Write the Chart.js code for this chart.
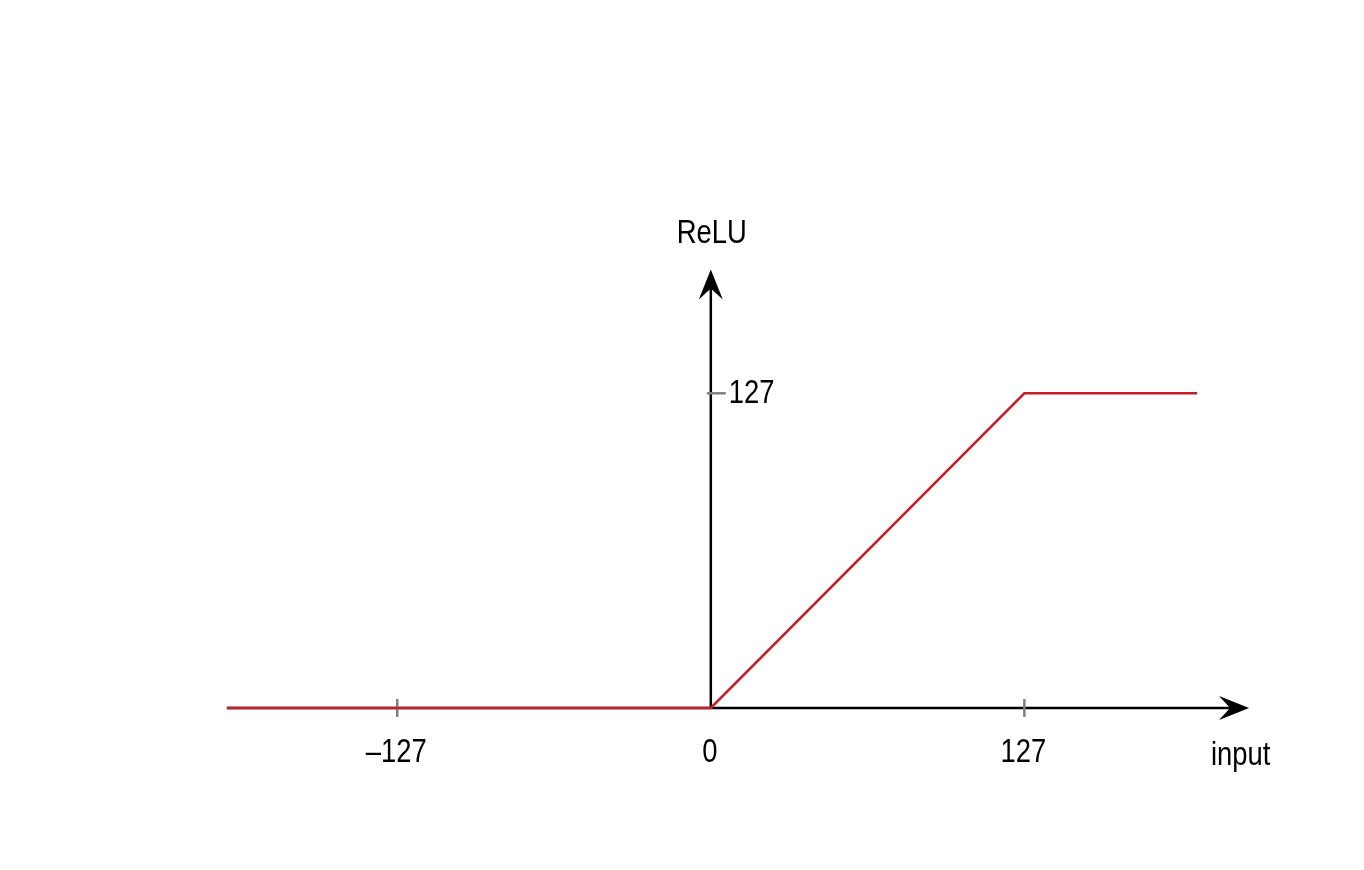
<!DOCTYPE html>
<html>
<head>
<meta charset="utf-8">
<script src="https://cdn.jsdelivr.net/npm/chart.js@4/dist/chart.umd.min.js"></script>
<style>
  html, body { margin: 0; padding: 0; background: #fff; }
  #wrap { width: 1364px; height: 870px; }
</style>
</head>
<body>
<div id="wrap"><canvas id="reluChart" width="1364" height="870"></canvas></div>
<script>
// Data
const inputValues = [-196, 0, 127, 197];
const reluValues = [0, 0, 127, 127];
const xTicks = [-127, 0, 127];
const xTickLabels = ['\u2013127', '0', '127'];
const yTicks = [127];
const yTickLabels = ['127'];
const xTitle = 'input';
const yTitle = 'ReLU';
const xArrowEnd = 218;   // where the axis arrows point to
const yArrowEnd = 177;

// Styling
const LINE_COLOR = '#c41e2a';
const AXIS_COLOR = '#000000';
const TICK_COLOR = '#808080';
const FONT = '33px "Liberation Sans", Arial, sans-serif';
const NARROW = 0.83; // the original uses a condensed face

/**
 * Draw a filled arrowhead with concave back, pointing along (dx, dy)
 */
function drawArrowHead(ctx, tipX, tipY, dx, dy) {
    const len = 30, half = 12, notch = 19;
    const px = -dy, py = dx;
    ctx.beginPath();
    ctx.moveTo(tipX, tipY);
    ctx.lineTo(tipX - dx * len + px * half, tipY - dy * len + py * half);
    ctx.lineTo(tipX - dx * notch, tipY - dy * notch);
    ctx.lineTo(tipX - dx * len - px * half, tipY - dy * len - py * half);
    ctx.closePath();
    ctx.fill();
}

// text squeezed horizontally around its anchor
function narrowText(ctx, text, x, y) {
    ctx.save();
    ctx.translate(x, y);
    ctx.scale(NARROW, 1);
    ctx.fillText(text, 0, 0);
    ctx.restore();
}

// Plugin: axes through the origin with arrows, ticks and titles
const originAxes = {
    id: 'originAxes',
    beforeDatasetsDraw(chart) {
        const ctx = chart.ctx;
        const xs = chart.scales.x;
        const ys = chart.scales.y;
        const x0 = xs.getPixelForValue(0);
        const y0 = ys.getPixelForValue(0);
        const xEnd = xs.getPixelForValue(xArrowEnd);
        const yEnd = ys.getPixelForValue(yArrowEnd);
        const xStart = xs.getPixelForValue(inputValues[0]);

        ctx.save();
        ctx.strokeStyle = AXIS_COLOR;
        ctx.fillStyle = AXIS_COLOR;
        ctx.lineWidth = 2.5;

        // x axis
        ctx.beginPath();
        ctx.moveTo(xStart, y0);
        ctx.lineTo(xEnd - 15, y0);
        ctx.stroke();
        drawArrowHead(ctx, xEnd, y0, 1, 0);

        // y axis
        ctx.beginPath();
        ctx.moveTo(x0, y0);
        ctx.lineTo(x0, yEnd + 15);
        ctx.stroke();
        drawArrowHead(ctx, x0, yEnd, 0, -1);

        // tick marks
        ctx.strokeStyle = TICK_COLOR;
        ctx.lineWidth = 2.5;
        xTicks.forEach(v => {
            if (v === 0) return;
            const px = xs.getPixelForValue(v);
            ctx.beginPath();
            ctx.moveTo(px, y0 - 9);
            ctx.lineTo(px, y0 + 9);
            ctx.stroke();
        });
        yTicks.forEach(v => {
            const py = ys.getPixelForValue(v);
            ctx.beginPath();
            ctx.moveTo(x0 - 4, py);
            ctx.lineTo(x0 + 15, py);
            ctx.stroke();
        });
        ctx.restore();
    },
    afterDraw(chart) {
        const ctx = chart.ctx;
        const xs = chart.scales.x;
        const ys = chart.scales.y;
        const x0 = xs.getPixelForValue(0);
        const y0 = ys.getPixelForValue(0);

        ctx.save();
        ctx.fillStyle = '#000';
        ctx.font = FONT;

        // x tick labels
        ctx.textAlign = 'center';
        ctx.textBaseline = 'alphabetic';
        xTicks.forEach((v, i) => {
            narrowText(ctx, xTickLabels[i], xs.getPixelForValue(v) - 1, y0 + 54);
        });

        // y tick labels
        ctx.textAlign = 'left';
        ctx.textBaseline = 'middle';
        yTicks.forEach((v, i) => {
            narrowText(ctx, yTickLabels[i], x0 + 18, ys.getPixelForValue(v) + 1);
        });

        // axis titles
        ctx.textAlign = 'left';
        ctx.textBaseline = 'alphabetic';
        narrowText(ctx, xTitle, 1211, y0 + 57);
        ctx.textAlign = 'center';
        narrowText(ctx, yTitle, x0 + 1, 243);
        ctx.restore();
    }
};

const chart = new Chart(document.getElementById('reluChart').getContext('2d'), {
    type: 'line',
    data: {
        datasets: [{
            label: 'ReLU',
            data: inputValues.map((x, i) => ({ x: x, y: reluValues[i] })),
            borderColor: LINE_COLOR,
            borderWidth: 2.5,
            pointRadius: 0,
            tension: 0,
            fill: false
        }]
    },
    options: {
        responsive: false,
        animation: false,
        layout: { padding: { left: 217, right: 110, top: 262, bottom: 63 } },
        plugins: { legend: { display: false }, tooltip: { enabled: false } },
        scales: {
            x: { type: 'linear', min: -200, max: 220, display: false },
            y: { type: 'linear', min: -40, max: 180, display: false }
        }
    },
    plugins: [originAxes]
});
</script>
</body>
</html>
